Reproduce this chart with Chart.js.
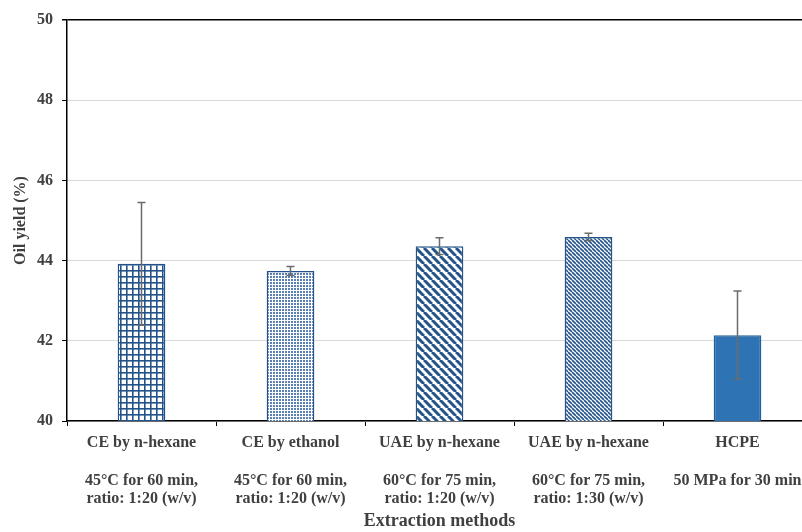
<!DOCTYPE html>
<html>
<head>
<meta charset="utf-8">
<script src="https://cdn.jsdelivr.net/npm/chart.js@4.4.1/dist/chart.umd.min.js"></script>
<style>
  html, body { margin: 0; padding: 0; background: #fff; overflow: hidden; }
  #wrap { width: 830px; height: 532px; }
</style>
</head>
<body>
<div id="wrap"><canvas id="yieldChart"></canvas></div>
<script>
// data
const methods = ['CE by n-hexane', 'CE by ethanol', 'UAE by n-hexane', 'UAE by n-hexane', 'HCPE'];
const condLine1 = ['45°C for 60 min,', '45°C for 60 min,', '60°C for 75 min,', '60°C for 75 min,', '50 MPa for 30 min'];
const condLine2 = ['ratio: 1:20 (w/v)', 'ratio: 1:20 (w/v)', 'ratio: 1:20 (w/v)', 'ratio: 1:30 (w/v)', ''];
const oilYield = [43.92, 43.74, 44.36, 44.59, 42.14];
const yieldSd = [1.53, 0.11, 0.21, 0.09, 1.10];
const yTicks = [40, 42, 44, 46, 48, 50];

const blue = '#23538a';
const serif = "'Liberation Serif', 'Times New Roman', serif";

// pattern fills (excel-like hatches)
function makePattern(w, h, draw) {
  const c = document.createElement('canvas');
  c.width = w; c.height = h;
  const g = c.getContext('2d');
  g.fillStyle = '#fff';
  g.fillRect(0, 0, w, h);
  draw(g, w, h);
  return c.getContext('2d').createPattern(c, 'repeat');
}

const gridFill = makePattern(6, 6, (g) => {
  g.fillStyle = blue;
  g.fillRect(0, 0, 6, 1.6);
  g.fillRect(0, 0, 1.6, 6);
});

const dotFill = makePattern(3, 3, (g) => {
  g.fillStyle = '#5a80b3';
  g.fillRect(0, 0, 2, 2);
});

function diagonal(n, lw) {
  return makePattern(n, n, (g) => {
    g.strokeStyle = blue;
    g.lineWidth = lw;
    for (let k = -1; k <= 1; k++) {
      g.beginPath();
      g.moveTo(k * n, 0);
      g.lineTo(k * n + n, n);
      g.stroke();
    }
  });
}

const wideDiag = diagonal(8, 3);
const narrowDiag = diagonal(4, 1.6);

const labels = methods.map((m, i) => [m, '', condLine1[i], condLine2[i]]);

// error bars drawn through the y scale
const errorBars = {
  id: 'errorBars',
  afterDatasetsDraw(chart) {
    const ctx = chart.ctx;
    const y = chart.scales.y;
    const meta = chart.getDatasetMeta(0);
    ctx.save();
    ctx.strokeStyle = '#6b6b6b';
    ctx.lineWidth = 1.5;
    meta.data.forEach((bar, i) => {
      const top = y.getPixelForValue(oilYield[i] + yieldSd[i]);
      const bot = y.getPixelForValue(oilYield[i] - yieldSd[i]);
      ctx.beginPath();
      ctx.moveTo(bar.x, top); ctx.lineTo(bar.x, bot);
      ctx.moveTo(bar.x - 4, top); ctx.lineTo(bar.x + 4, top);
      ctx.moveTo(bar.x - 4, bot); ctx.lineTo(bar.x + 4, bot);
      ctx.stroke();
    });
    ctx.restore();
  }
};

const config = {
  type: 'bar',
  data: {
    labels: labels,
    datasets: [{
      data: oilYield,
      backgroundColor: [gridFill, dotFill, wideDiag, narrowDiag, '#2e74b5'],
      borderColor: [blue, blue, blue, blue, '#25609a'],
      borderWidth: 1.5,
      barPercentage: 0.32,
      categoryPercentage: 1,
    }]
  },
  plugins: [errorBars],
  options: {
    responsive: true,
    maintainAspectRatio: false,
    animation: false,
    layout: { padding: { top: 20, right: 18, left: 0, bottom: 0 } },
    plugins: {
      legend: { display: false },
      tooltip: { enabled: false },
    },
    scales: {
      x: {
        grid: {
          offset: true,
          drawOnChartArea: false,
          tickLength: 5,
          tickColor: '#000',
        },
        border: { color: '#000', width: 1.5 },
        ticks: {
          color: '#404040',
          padding: 8,
          maxRotation: 0,
          autoSkip: false,
          font: { family: serif, size: 16, weight: 'bold', lineHeight: 1.16 },
        },
        title: {
          display: true,
          text: 'Extraction methods',
          color: '#404040',
          padding: { top: 0, bottom: 0 },
          font: { family: serif, size: 18, weight: 'bold' },
        },
        afterFit: (scale) => { scale.height = 111; }, // plot bottom edge
      },
      y: {
        min: 40,
        max: 50,
        afterBuildTicks: (scale) => { scale.ticks = yTicks.map(v => ({ value: v })); },
        grid: {
          color: (c) => c.tick && c.tick.value === 50 ? '#000' : '#d9d9d9',
          lineWidth: (c) => c.tick && c.tick.value === 50 ? 1.5 : 1,
          tickColor: '#000',
          tickLength: 5,
        },
        border: { color: '#000', width: 1.5 },
        ticks: {
          color: '#404040',
          padding: 9,
          font: { family: serif, size: 16, weight: 'bold' },
        },
        title: {
          display: true,
          text: 'Oil yield (%)',
          color: '#404040',
          padding: { top: 11 },
          font: { family: serif, size: 16, weight: 'bold' },
        },
        afterFit: (scale) => { scale.width = 67; },
      }
    }
  }
};

const yieldChart = new Chart(document.getElementById('yieldChart'), config);
</script>
</body>
</html>
